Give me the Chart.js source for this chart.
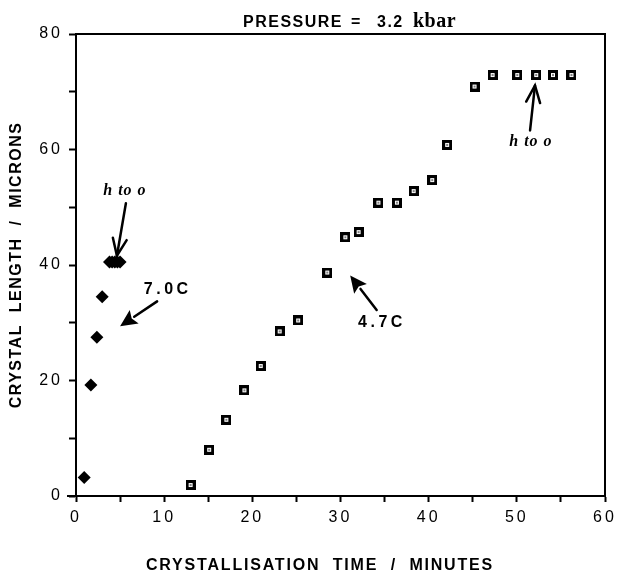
<!DOCTYPE html>
<html>
<head>
<meta charset="utf-8">
<script src="https://cdn.jsdelivr.net/npm/chart.js@4/dist/chart.umd.min.js"></script>
<style>
html, body { margin: 0; padding: 0; background: #fff; }
</style>
</head>
<body>
<canvas id="chart" width="617" height="575"></canvas>
<script>
// 7.0C run (filled diamonds)
const times70 = [0.93, 1.69, 2.37, 2.97, 3.8, 4.1, 4.4, 4.7, 5.0];
const lengths70 = [3.2, 19.2, 27.5, 34.5, 40.5, 40.5, 40.5, 40.5, 40.5];
// 4.7C run (open squares)
const times47 = [13.0, 15.1, 17.05, 19.1, 20.95, 23.1, 25.2, 28.5, 30.55, 32.05, 34.3,
    36.4, 38.3, 40.4, 42.1, 45.2, 47.25, 50.05, 52.2, 54.1, 56.2];
const lengths47 = [1.9, 8.0, 13.2, 18.3, 22.5, 28.5, 30.4, 38.7, 44.8, 45.7, 50.8,
    50.8, 52.8, 54.7, 60.8, 70.9, 72.9, 72.9, 72.9, 72.9, 72.9];
const xTicks = [0, 10, 20, 30, 40, 50, 60];
const yTicks = [0, 20, 40, 60, 80];

// labels and arrows, in data units
const notes = [
    {text: 'h to o', x: 5.55, y: 52.9, serif: true},
    {text: '7.0C', x: 10.4, y: 35.7},
    {text: '4.7C', x: 34.7, y: 30.1},
    {text: 'h to o', x: 51.6, y: 61.4, serif: true}
];
const arrows = [
    {from: [5.66, 50.7], to: [4.64, 41.6], filled: false},
    {from: [9.2, 33.7], to: [5.0, 29.4], filled: true},
    {from: [34.1, 32.2], to: [31.1, 38.2], filled: true},
    {from: [51.5, 63.3], to: [52.06, 71.1], filled: false}
];

function squareMark() {
    const c = document.createElement('canvas');
    c.width = 10;
    c.height = 10;
    const g = c.getContext('2d');
    g.fillStyle = '#000';
    g.fillRect(0, 0, 10, 10);
    g.fillStyle = '#fff';
    g.fillRect(3, 3, 4, 4);
    g.fillStyle = '#222';
    g.fillRect(4.25, 4.25, 1.5, 1.5);
    return c;
}

function drawArrow(ctx, x1, y1, x2, y2, filled) {
    const ang = Math.atan2(y2 - y1, x2 - x1);
    const len = filled ? 17 : 17;
    const half = filled ? 8 : 7;
    const bx = x2 - Math.cos(ang) * len;
    const by = y2 - Math.sin(ang) * len;
    const px = -Math.sin(ang) * half;
    const py = Math.cos(ang) * half;
    ctx.beginPath();
    ctx.moveTo(x1, y1);
    if (filled) {
        ctx.lineTo(bx, by);
    } else {
        ctx.lineTo(x2, y2);
    }
    ctx.stroke();
    ctx.beginPath();
    if (filled) {
        ctx.moveTo(x2, y2);
        ctx.lineTo(bx + px, by + py);
        ctx.lineTo(bx + Math.cos(ang) * 3, by + Math.sin(ang) * 3);
        ctx.lineTo(bx - px, by - py);
        ctx.closePath();
        ctx.fill();
    } else {
        ctx.moveTo(bx + px, by + py);
        ctx.lineTo(x2, y2);
        ctx.lineTo(bx - px, by - py);
        ctx.stroke();
    }
}

const decor = {
    id: 'decor',
    beforeDraw(chart) {
        chart.ctx.letterSpacing = '3px';
    },
    afterDraw(chart) {
        const {ctx, chartArea: a, scales: {x, y}} = chart;
        ctx.save();
        ctx.strokeStyle = '#000';
        ctx.fillStyle = '#000';

        // frame top and right, x axis stub left of y axis
        ctx.lineWidth = 2;
        ctx.beginPath();
        ctx.moveTo(a.left, a.top);
        ctx.lineTo(a.right, a.top);
        ctx.lineTo(a.right, a.bottom);
        ctx.moveTo(a.left - 9, a.bottom);
        ctx.lineTo(a.left, a.bottom);
        ctx.stroke();

        // title
        ctx.textBaseline = 'alphabetic';
        ctx.textAlign = 'left';
        ctx.letterSpacing = '1.5px';
        ctx.font = 'bold 16px "Liberation Sans"';
        ctx.fillText('PRESSURE', 243, 27);
        ctx.fillText('=', 351, 27);
        ctx.fillText('3.2', 377, 27);
        ctx.letterSpacing = '0.5px';
        ctx.font = 'bold 20px "Liberation Serif"';
        ctx.fillText('kbar', 413, 27);

        // axis titles
        ctx.letterSpacing = '1.8px';
        ctx.font = 'bold 16px "Liberation Sans"';
        ctx.textAlign = 'center';
        ctx.textBaseline = 'middle';
        ctx.fillText('CRYSTALLISATION  TIME  /  MINUTES', 320, 566);
        ctx.letterSpacing = '1.5px';
        ctx.save();
        ctx.translate(17, (a.top + a.bottom) / 2);
        ctx.rotate(-Math.PI / 2);
        ctx.fillText('CRYSTAL  LENGTH  /  MICRONS', 0, 0);
        ctx.restore();

        // notes
        notes.forEach(n => {
            if (n.serif) {
                ctx.font = 'bold italic 16px "Liberation Serif"';
                ctx.letterSpacing = '1px';
            } else {
                ctx.font = 'bold 16px "Liberation Sans"';
                ctx.letterSpacing = '3.5px';
            }
            ctx.fillText(n.text, x.getPixelForValue(n.x), y.getPixelForValue(n.y));
        });

        ctx.lineWidth = 2.5;
        ctx.lineCap = 'round';
        arrows.forEach(r => {
            drawArrow(ctx,
                x.getPixelForValue(r.from[0]), y.getPixelForValue(r.from[1]),
                x.getPixelForValue(r.to[0]), y.getPixelForValue(r.to[1]),
                r.filled);
        });
        ctx.restore();
        ctx.letterSpacing = '0px';
    }
};

const tickFont = {family: '"Liberation Sans"', size: 16};

new Chart(document.getElementById('chart'), {
    type: 'scatter',
    data: {
        datasets: [{
            label: '7.0C',
            data: times70.map((t, i) => ({x: t, y: lengths70[i]})),
            pointStyle: 'rectRot',
            pointRadius: 6.5,
            backgroundColor: '#000',
            borderColor: '#000',
            borderWidth: 0
        }, {
            label: '4.7C',
            data: times47.map((t, i) => ({x: t, y: lengths47[i]})),
            pointStyle: squareMark(),
            pointRadius: 5
        }]
    },
    options: {
        responsive: false,
        animation: false,
        events: [],
        layout: {
            padding: {top: 34, right: 12, left: 0, bottom: 0}
        },
        plugins: {
            legend: {display: false},
            tooltip: {enabled: false}
        },
        scales: {
            x: {
                type: 'linear',
                min: 0,
                max: 60,
                afterFit(s) {
                    s.height = 79;
                    s.paddingLeft = 0;
                    s.paddingRight = 0;
                },
                border: {display: true, color: '#000', width: 2},
                grid: {drawOnChartArea: false, tickLength: 6, tickWidth: 2, tickColor: '#000'},
                ticks: {
                    stepSize: 5,
                    autoSkip: false,
                    maxRotation: 0,
                    padding: 6,
                    color: '#000',
                    font: tickFont,
                    callback: v => xTicks.includes(v) ? String(v) : ''
                }
            },
            y: {
                type: 'linear',
                min: 0,
                max: 80,
                afterFit(s) {
                    s.width = 76;
                    s.paddingTop = 0;
                    s.paddingBottom = 0;
                },
                border: {display: true, color: '#000', width: 2},
                grid: {drawOnChartArea: false, tickLength: 7, tickWidth: 2, tickColor: '#000'},
                ticks: {
                    stepSize: 10,
                    autoSkip: false,
                    padding: 6,
                    color: '#000',
                    font: tickFont,
                    callback: v => yTicks.includes(v) ? String(v) : ''
                }
            }
        }
    },
    plugins: [decor]
});
</script>
</body>
</html>
